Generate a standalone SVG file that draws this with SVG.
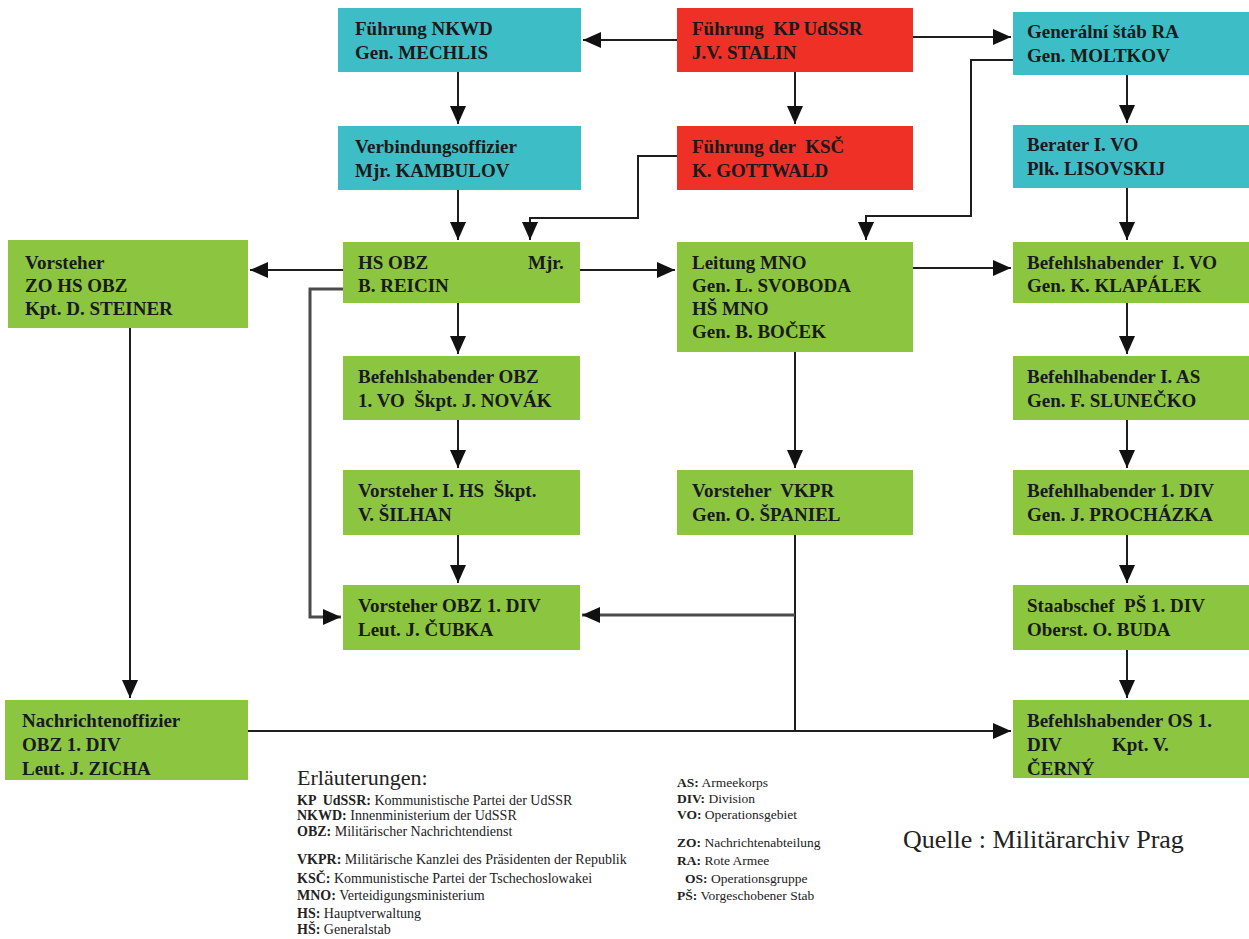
<svg xmlns="http://www.w3.org/2000/svg" width="1249" height="939" viewBox="0 0 1249 939">
<style>
  .box text { font-family: "Liberation Serif", "Times New Roman", serif; font-weight: bold; font-size: 19px; fill: #1a1a1a; }
  .cyan { fill: #3dbec6; }
  .red { fill: #ee3027; }
  .green { fill: #8cc540; }
  .conn { fill: none; stroke: #1e1e1e; stroke-width: 2; }
  .gray { fill: none; stroke: #4a4a4a; stroke-width: 3; }
  .leg { font-family: "Liberation Serif", "Times New Roman", serif; font-size: 14px; fill: #222; }
  .legr { font-family: "Liberation Serif", "Times New Roman", serif; font-size: 13.5px; fill: #222; }
  .b { font-weight: bold; }
  .big { font-family: "Liberation Serif", "Times New Roman", serif; font-size: 22px; fill: #222; }
  .src { font-family: "Liberation Serif", "Times New Roman", serif; font-size: 26px; fill: #222; }
</style>
<defs>
  <marker id="ah" markerUnits="userSpaceOnUse" markerWidth="20" markerHeight="16" refX="18" refY="8" orient="auto">
    <path d="M0,0 L18,8 L0,16 z" fill="#111"/>
  </marker>
</defs>
<rect width="1249" height="939" fill="#ffffff"/>

<g id="connectors">
  <path class="conn" d="M677,40 H583" marker-end="url(#ah)"/>
  <path class="conn" d="M913,37 H1011" marker-end="url(#ah)"/>
  <path class="conn" d="M795,72 V124" marker-end="url(#ah)"/>
  <path class="conn" d="M458,72 V124" marker-end="url(#ah)"/>
  <path class="conn" d="M458,190 V240" marker-end="url(#ah)"/>
  <path class="conn" d="M677,156 H638 V218 H530 V240" marker-end="url(#ah)"/>
  <path class="conn" d="M1013,60 H971 V216 H866 V240" marker-end="url(#ah)"/>
  <path class="conn" d="M1127,75 V123" marker-end="url(#ah)"/>
  <path class="conn" d="M1127,188 V240" marker-end="url(#ah)"/>
  <path class="conn" d="M343,270 H250" marker-end="url(#ah)"/>
  <path class="conn" d="M580,270 H675" marker-end="url(#ah)"/>
  <path class="conn" d="M913,268 H1011" marker-end="url(#ah)"/>
  <path class="conn" d="M458,303 V354" marker-end="url(#ah)"/>
  <path class="conn" d="M458,420 V468" marker-end="url(#ah)"/>
  <path class="conn" d="M458,535 V583" marker-end="url(#ah)"/>
  <path class="gray" d="M343,289 H310 V617 H341" marker-end="url(#ah)"/>
  <path class="conn" d="M795,352 V468" marker-end="url(#ah)"/>
  <path class="conn" d="M795,535 V731"/>
  <path class="gray" d="M795,615 H582" marker-end="url(#ah)"/>
  <path class="conn" d="M130,328 V698" marker-end="url(#ah)"/>
  <path class="conn" d="M248,731 H1011" marker-end="url(#ah)"/>
  <path class="conn" d="M1127,303 V354" marker-end="url(#ah)"/>
  <path class="conn" d="M1127,420 V468" marker-end="url(#ah)"/>
  <path class="conn" d="M1127,535 V583" marker-end="url(#ah)"/>
  <path class="conn" d="M1127,650 V698" marker-end="url(#ah)"/>
</g>

<g id="n-kp" class="box"><rect class="red" x="677" y="8" width="236" height="64"/>
  <text x="692" y="35" xml:space="preserve">Führung  KP UdSSR</text><text x="692" y="59">J.V. STALIN</text></g>
<g id="n-ksc" class="box"><rect class="red" x="677" y="126" width="236" height="64"/>
  <text x="692" y="153" xml:space="preserve">Führung der  KSČ</text><text x="692" y="177">K. GOTTWALD</text></g>
<g id="n-nkwd" class="box"><rect class="cyan" x="338" y="8" width="243" height="64"/>
  <text x="355" y="35">Führung NKWD</text><text x="355" y="59">Gen. MECHLIS</text></g>
<g id="n-verb" class="box"><rect class="cyan" x="338" y="126" width="243" height="64"/>
  <text x="355" y="153">Verbindungsoffizier</text><text x="355" y="177">Mjr. KAMBULOV</text></g>
<g id="n-gen" class="box"><rect class="cyan" x="1013" y="12" width="236" height="63"/>
  <text x="1027" y="38">Generální štáb RA</text><text x="1027" y="62">Gen. MOLTKOV</text></g>
<g id="n-berater" class="box"><rect class="cyan" x="1013" y="125" width="236" height="63"/>
  <text x="1027" y="151">Berater I. VO</text><text x="1027" y="175">Plk. LISOVSKIJ</text></g>
<g id="n-hsobz" class="box"><rect class="green" x="343" y="242" width="237" height="61"/>
  <text x="358" y="269">HS OBZ<tspan x="528">Mjr.</tspan></text><text x="358" y="292">B. REICIN</text></g>
<g id="n-zo" class="box"><rect class="green" x="8" y="240" width="240" height="88"/>
  <text x="25" y="269">Vorsteher</text><text x="25" y="292">ZO HS OBZ</text><text x="25" y="315">Kpt. D. STEINER</text></g>
<g id="n-mno" class="box"><rect class="green" x="677" y="242" width="236" height="110"/>
  <text x="692" y="269">Leitung MNO</text><text x="692" y="292">Gen. L. SVOBODA</text><text x="692" y="315">HŠ MNO</text><text x="692" y="338">Gen. B. BOČEK</text></g>
<g id="n-ivo" class="box"><rect class="green" x="1013" y="242" width="236" height="61"/>
  <text x="1027" y="269" xml:space="preserve">Befehlshabender  I. VO</text><text x="1027" y="292">Gen. K. KLAPÁLEK</text></g>
<g id="n-obz" class="box"><rect class="green" x="343" y="356" width="237" height="64"/>
  <text x="358" y="383">Befehlshabender OBZ</text><text x="358" y="407" xml:space="preserve">1. VO  Škpt. J. NOVÁK</text></g>
<g id="n-ias" class="box"><rect class="green" x="1013" y="356" width="236" height="64"/>
  <text x="1027" y="383">Befehlhabender I. AS</text><text x="1027" y="407">Gen. F. SLUNEČKO</text></g>
<g id="n-ihs" class="box"><rect class="green" x="343" y="470" width="237" height="65"/>
  <text x="358" y="497" xml:space="preserve">Vorsteher I. HS  Škpt.</text><text x="358" y="521">V. ŠILHAN</text></g>
<g id="n-vkpr" class="box"><rect class="green" x="677" y="470" width="236" height="65"/>
  <text x="692" y="497" xml:space="preserve">Vorsteher  VKPR</text><text x="692" y="521">Gen. O. ŠPANIEL</text></g>
<g id="n-div" class="box"><rect class="green" x="1013" y="470" width="236" height="65"/>
  <text x="1027" y="497">Befehlhabender 1. DIV</text><text x="1027" y="521">Gen. J. PROCHÁZKA</text></g>
<g id="n-cubka" class="box"><rect class="green" x="343" y="585" width="237" height="65"/>
  <text x="358" y="612">Vorsteher OBZ 1. DIV</text><text x="358" y="636">Leut. J. ČUBKA</text></g>
<g id="n-staab" class="box"><rect class="green" x="1013" y="585" width="236" height="65"/>
  <text x="1027" y="612" xml:space="preserve">Staabschef  PŠ 1. DIV</text><text x="1027" y="636">Oberst. O. BUDA</text></g>
<g id="n-zicha" class="box"><rect class="green" x="5" y="700" width="243" height="80"/>
  <text x="22" y="727">Nachrichtenoffizier</text><text x="22" y="751">OBZ 1. DIV</text><text x="22" y="775">Leut. J. ZICHA</text></g>
<g id="n-os" class="box"><rect class="green" x="1013" y="700" width="236" height="78"/>
  <text x="1027" y="727">Befehlshabender OS 1.</text><text x="1027" y="751">DIV<tspan x="1112">Kpt. V.</tspan></text><text x="1027" y="775">ČERNÝ</text></g>

<g id="legend">
  <text class="big" x="297" y="785">Erläuterungen:</text>
  <text class="leg" x="297" y="805" xml:space="preserve"><tspan class="b">KP  UdSSR:</tspan> Kommunistische Partei der UdSSR</text>
  <text class="leg" x="297" y="820"><tspan class="b">NKWD:</tspan> Innenministerium der UdSSR</text>
  <text class="leg" x="297" y="836"><tspan class="b">OBZ:</tspan> Militärischer Nachrichtendienst</text>
  <text class="leg" x="297" y="864"><tspan class="b">VKPR:</tspan> Militärische Kanzlei des Präsidenten der Republik</text>
  <text class="leg" x="297" y="883"><tspan class="b">KSČ:</tspan> Kommunistische Partei der Tschechoslowakei</text>
  <text class="leg" x="297" y="900"><tspan class="b">MNO:</tspan> Verteidigungsministerium</text>
  <text class="leg" x="297" y="918"><tspan class="b">HS:</tspan> Hauptverwaltung</text>
  <text class="leg" x="297" y="934"><tspan class="b">HŠ:</tspan> Generalstab</text>
  <text class="legr" x="677" y="787"><tspan class="b">AS:</tspan> Armeekorps</text>
  <text class="legr" x="677" y="803"><tspan class="b">DIV:</tspan> Division</text>
  <text class="legr" x="677" y="819"><tspan class="b">VO:</tspan> Operationsgebiet</text>
  <text class="legr" x="677" y="847"><tspan class="b">ZO:</tspan> Nachrichtenabteilung</text>
  <text class="legr" x="677" y="865"><tspan class="b">RA:</tspan> Rote Armee</text>
  <text class="legr" x="685" y="883"><tspan class="b">OS:</tspan> Operationsgruppe</text>
  <text class="legr" x="677" y="900"><tspan class="b">PŠ:</tspan> Vorgeschobener Stab</text>
  <text class="src" x="903" y="848">Quelle : Militärarchiv Prag</text>
</g>
</svg>
